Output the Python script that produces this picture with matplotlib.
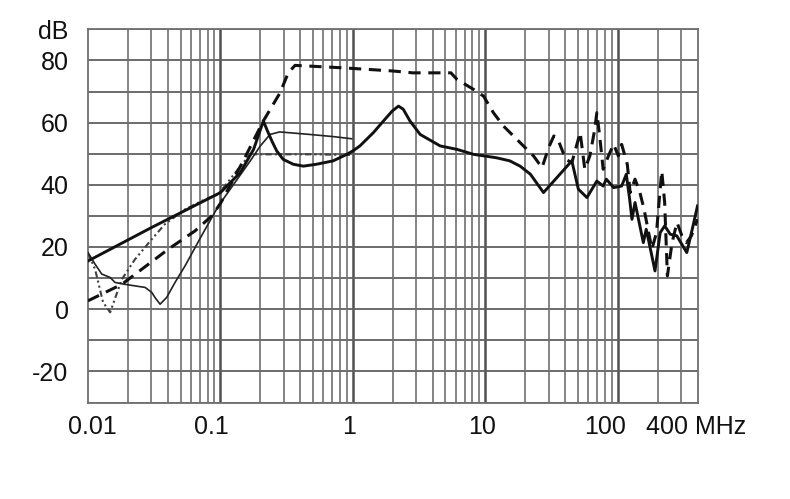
import numpy as np
import matplotlib
matplotlib.use("Agg")
import matplotlib.pyplot as plt
from matplotlib.ticker import LogLocator, NullFormatter
from matplotlib.transforms import ScaledTranslation

plt.rcParams["font.family"] = ["Liberation Sans", "DejaVu Sans"]

# =========================================
# DATA (MHz, dB)
# =========================================

# thick solid
f_a = [0.01, 0.0303, 0.1, 0.141, 0.178, 0.211, 0.224, 0.245, 0.266, 0.297, 0.355,
       0.423, 0.53, 0.71, 0.9, 1.0, 1.13, 1.43, 1.70, 1.98, 2.21, 2.40, 2.70, 3.22,
       4.56, 6.1, 8.13, 12.1, 15.3, 18.3, 21.9, 27.5, 45, 50.4, 58.5, 69.5,
       77.6, 82, 93, 107, 116, 123, 128, 135, 156, 164, 181, 191, 209, 226, 249,
       279, 332, 365, 400]
db_a = [15.5, 26.3, 37.5, 43.9, 51.4, 60.5, 57.8, 54, 50.9, 48.2, 46.6,
        46, 46.6, 47.7, 49.8, 50.9, 52.5, 56.8, 60.5, 63.7, 65.3, 64.3, 60.5, 56.2,
        52.5, 51.4, 49.8, 48.7, 47.7, 46, 43.4, 37.5, 47.7, 38.6, 35.9, 41.2,
        39.6, 41.8, 39.1, 39.6, 43.4, 35.3, 28.9, 34.3, 21.4, 25.7, 17.1, 12.3, 24.6,
        26.8, 24.1, 23.6, 18.2, 25.7, 33.2]

# thick dashed
f_b = [0.01, 0.018, 0.0404, 0.0644, 0.086, 0.1, 0.15, 0.21, 0.282, 0.325, 0.366,
       0.85, 2.0, 2.83, 5.5, 6.1, 8.13, 9.7, 11.5, 13.7, 16.3, 19.4, 23.1, 26.8,
       30.1, 32.9, 35.3, 40.5, 45, 52, 56.4, 61.6, 67, 69.5, 73, 77.6, 85, 93, 101,
       107, 118, 124, 135, 147, 158, 181, 196, 209, 215, 226, 237, 257, 280, 305,
       330, 360, 400]
db_b = [2.7, 8, 19.3, 25.2, 30, 34, 48, 60.4, 69.6, 76, 78.4,
        77.6, 76.6, 76, 76, 73.9, 70.7, 68.5, 63.2, 58.9, 55.7, 52.5, 49.3, 45.5,
        52, 55.7, 54.6, 48.2, 47.1, 56.8, 45, 49.3, 57.8, 63.2, 55.7, 45, 49.3, 53,
        49.3, 53, 46.6, 37.5, 41.8, 37.5, 32.1, 19.3, 24.6, 38.6, 44.4, 34.3, 10.7,
        21.4, 27.9, 23.6, 21.4, 23.6, 28.9]

# thin solid
f_c = [0.01, 0.0113, 0.0127, 0.0147, 0.016, 0.019, 0.0226, 0.027, 0.0303, 0.032,
       0.035, 0.0393, 0.0454, 0.054, 0.072, 0.0965, 0.13, 0.17, 0.2, 0.237, 0.28,
       0.47, 0.71, 0.98]
db_c = [18.2, 14.5, 11.3, 10.2, 8.6, 8, 7.5, 7, 5.4, 3.8,
        1.6, 3.8, 8.6, 13.9, 23.6, 33.2, 41, 48, 52.5, 56.2, 57,
        56.2, 55.5, 54.8]

# dash-dot-dot
f_d = [0.01, 0.0113, 0.013, 0.0147, 0.018, 0.0226, 0.0303, 0.038, 0.054, 0.072,
       0.0965, 0.13, 0.167, 0.5, 0.95]
db_d = [18, 12.9, 2.2, -1, 9.6, 16, 22.5, 27.3, 32.1, 34.8,
        37, 44, 49.8, 49.8, 49.6]

x_ticks = [0.01, 0.1, 1, 10, 100, 400]
x_labels = ["0.01", "0.1", "1", "10", "100", "400 MHz"]
x_label_shift = [4, -9, -4, -3, -13, -1]  # px, as placed in the original
y_ticks = [-20, 0, 20, 40, 60, 80, 90]
y_labels = ["-20", "0", "20", "40", "60", "80", "dB"]
y_grid = np.arange(-30, 91, 10)

# =========================================
# PLOT
# =========================================

fig = plt.figure(figsize=(7.9, 4.99), dpi=100)
ax = fig.add_axes([88 / 790, 1 - 402.5 / 499, 609.5 / 790, 373.2 / 499])

ax.set_xscale("log")
ax.set_xlim(0.01, 400)
ax.set_ylim(-30, 90)

# grid
ax.xaxis.set_minor_locator(LogLocator(base=10, subs=np.arange(2, 10)))
ax.xaxis.set_minor_formatter(NullFormatter())
ax.grid(which="minor", axis="x", color="#707070", lw=1.2)
for d in [0.1, 1, 10, 100]:
    ax.axvline(d, color="#505050", lw=1.8, zorder=1)
for y in y_grid:
    ax.axhline(y, color="#606060", lw=1.3, zorder=1)

ax.set_xticks(x_ticks)
ax.set_xticklabels(x_labels)
ax.set_yticks(y_ticks)
ax.set_yticklabels(y_labels)
ax.tick_params(which="both", length=0, labelsize=18, colors="#111111")
ax.tick_params(axis="y", pad=14)
ax.tick_params(axis="x", pad=9)

for lab, dx in zip(ax.get_xticklabels(), x_label_shift):
    lab.set_transform(lab.get_transform() + ScaledTranslation(dx / 100, 0, fig.dpi_scale_trans))

for s in ax.spines.values():
    s.set_color("#707070")
    s.set_linewidth(1.3)

ax.plot(f_d, db_d, color="#404040", lw=1.5, ls=(0, (3, 1.5, 1, 1.5, 1, 1.5)), zorder=3)
ax.plot(f_c, db_c, color="#222222", lw=1.2, zorder=3)
ax.plot(f_b, db_b, color="#111111", lw=2.2, ls=(0, (4, 2.5)), zorder=4)
ax.plot(f_a, db_a, color="#111111", lw=2.1, zorder=5)

fig.savefig("out.png", dpi=100)
